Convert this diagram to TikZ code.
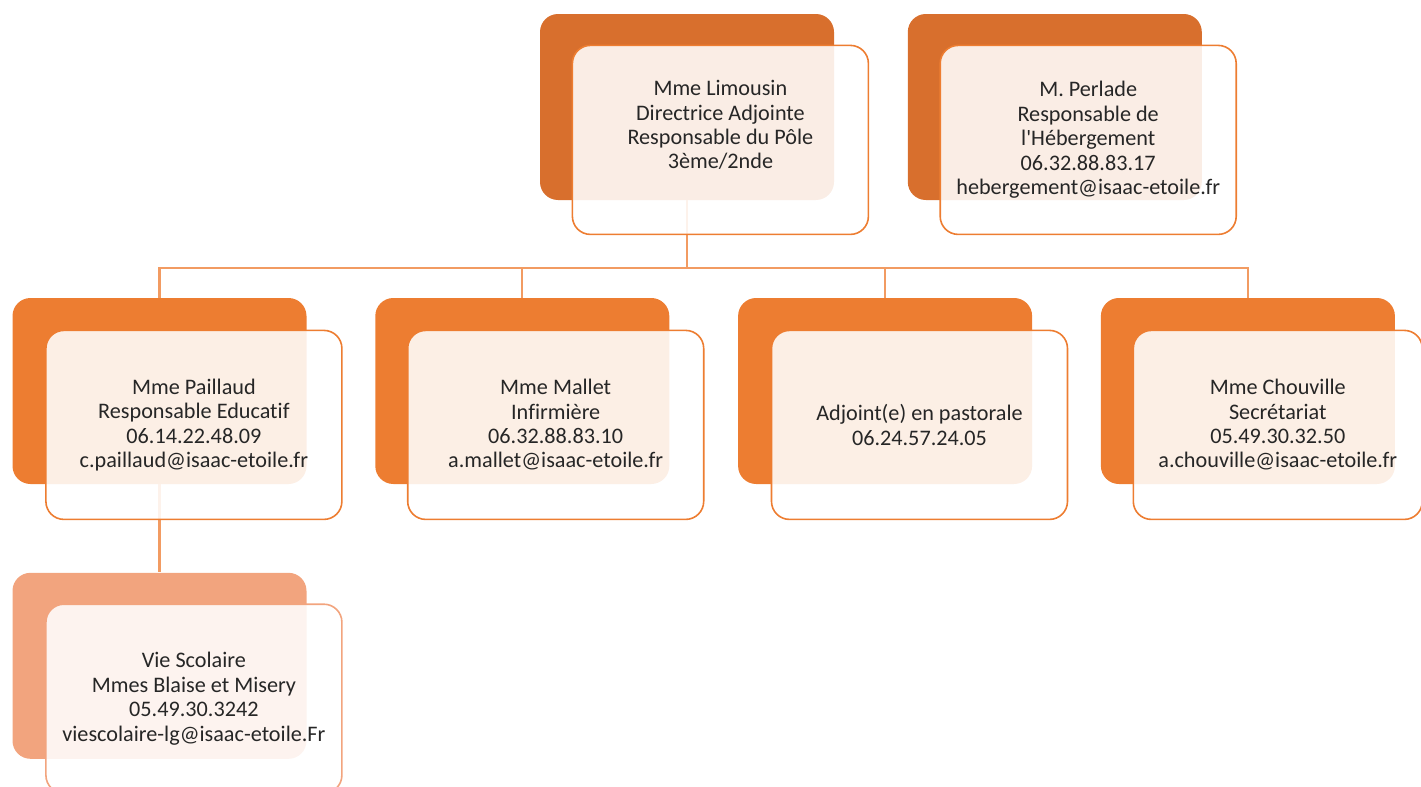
\documentclass[tikz,border=0pt]{standalone}
\usepackage{fontspec}
\setmainfont{Carlito}[Ligatures = {TeXOff, NoCommon}]
\usetikzlibrary{positioning}
\definecolor{darkorange}{HTML}{D86F2D}
\definecolor{midorange}{HTML}{ED7D31}
\definecolor{paleorange}{HTML}{F2A47E}
\definecolor{linkorange}{HTML}{F29B62}
\tikzset{
	backbox/.style = {rounded corners = 9pt, minimum width = 147pt, minimum height = 93pt, inner sep = 0pt},
	frontbox/.style = {draw, line width = 0.8pt, rounded corners = 9pt, fill = white, fill opacity = 0.88, text opacity = 1,
		minimum width = 148pt, minimum height = 94.5pt, inner sep = 2pt, align = center, anchor = north west,
		font = \fontsize{11.1}{12.2}\selectfont, text = black!85},
	link/.style = {linkorange, line width = 1.1pt}
}
\begin{document}
\begin{tikzpicture}[x = 0.5pt, y = -0.5pt]
	\useasboundingbox (0, 0) rectangle (1421, 787);
	% back boxes
	\node [backbox, fill = darkorange] (limB) at (687, 107) {};
	\node [backbox, fill = darkorange, right = 36.5pt of limB] (perB) {};
	\node [backbox, fill = midorange] (paiB) at (159.5, 391) {};
	\node [backbox, fill = midorange, right = 34pt of paiB] (malB) {};
	\node [backbox, fill = midorange, right = 34pt of malB] (adjB) {};
	\node [backbox, fill = midorange, right = 34pt of adjB] (choB) {};
	\node [backbox, fill = paleorange, below = 44pt of paiB] (vieB) {};
	% connectors
	\coordinate (bus) at (687, 268);
	\foreach \n in {paiB, malB, adjB, choB}
	{
		\draw [link] (limB.south) -- (bus) -| (\n.north);
	}
	\draw [link] (paiB.south) -- (vieB.north);
	% front boxes
	\node [frontbox, draw = midorange] (limF) at ([shift = {(16pt, -15.5pt)}]limB.north west)
		{Mme Limousin\\Directrice Adjointe\\Responsable du Pôle\\3ème/2nde\\[3pt]\mbox{}};
	\node [frontbox, draw = midorange] (perF) at ([shift = {(16pt, -15.5pt)}]perB.north west)
		{M. Perlade\\Responsable de\\l'Hébergement\\06.32.88.83.17\\hebergement@isaac-etoile.fr};
	\node [frontbox, draw = midorange] (paiF) at ([shift = {(16.5pt, -16pt)}]paiB.north west)
		{Mme Paillaud\\Responsable Educatif\\06.14.22.48.09\\c.paillaud@isaac-etoile.fr};
	\node [frontbox, draw = midorange] (malF) at ([shift = {(16pt, -16pt)}]malB.north west)
		{Mme Mallet\\Infirmière\\06.32.88.83.10\\a.mallet@isaac-etoile.fr};
	\node [frontbox, draw = midorange] (adjF) at ([shift = {(16.5pt, -16pt)}]adjB.north west)
		{Adjoint(e) en pastorale\\06.24.57.24.05};
	\node [frontbox, draw = midorange, minimum width = 144.5pt] (choF) at ([shift = {(16pt, -16pt)}]choB.north west)
		{Mme Chouville\\Secrétariat\\05.49.30.32.50\\a.chouville@isaac-etoile.fr};
	\node [frontbox, draw = paleorange] (vieF) at ([shift = {(16.5pt, -15.5pt)}]vieB.north west)
		{Vie Scolaire\\Mmes Blaise et Misery\\05.49.30.3242\\viescolaire-lg@isaac-etoile.Fr};
\end{tikzpicture}
\end{document}
